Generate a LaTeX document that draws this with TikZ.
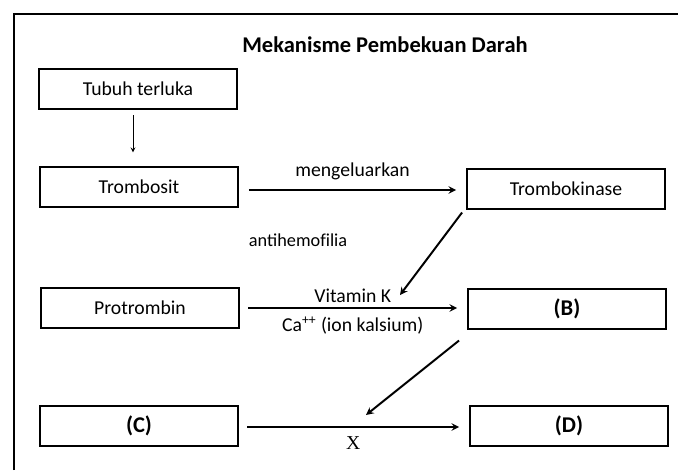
\documentclass[tikz,border=0pt]{standalone}
\usepackage{fontspec}
\setmainfont{Carlito}
\newfontfamily\serifx{Liberation Serif}
\usepackage{tikz}

\begin{document}
\begin{tikzpicture}[x=0.025cm,y=-0.025cm]
		% Define box and arrow styles
		\tikzset{kotak/.style={draw, line width=1.3pt, minimum width=4.95cm, minimum height=0.98cm, font=\fontsize{14}{16}\selectfont},
			huruf/.style={kotak, font=\fontsize{16}{18}\selectfont\bfseries},
			panah/.style={-stealth, line width=1.4pt},
			label/.style={font=\fontsize{14}{16}\selectfont}}
		
		% Fix the picture size
		\useasboundingbox (0,0) rectangle (678,470);
		
		% Draw the open frame and the title
		\draw[line width=0.9pt] (14,470) -- (14,14) -- (678,14);
		\node[font=\fontsize{16}{18}\selectfont\bfseries] (judul) at (385,45) {Mekanisme Pembekuan Darah};
		
		% Draw the boxes
		\node[kotak] (tubuh) at (138,89) {Tubuh terluka};
		\node[kotak] (trombosit) at (139,187) {Trombosit};
		\node[kotak] (trombokinase) at (566,189) {Trombokinase};
		\node[kotak] (protrombin) at (140,308) {Protrombin};
		\node[huruf] (nodeB) at (567,309) {(B)};
		\node[huruf] (nodeC) at (139,426) {(C)};
		\node[huruf] (nodeD) at (569,426) {(D)};
		
		% Free ends of the slanted arrows
		\coordinate (ujungK) at (400,295);
		\coordinate (ujungX) at (366,415);
		
		% Draw the arrows
		\draw[-stealth, line width=0.6pt, shorten <=4pt, shorten >=10pt] (tubuh.south -| 133,0) -- (trombosit.north -| 133,0);
		\draw[panah] ([xshift=7pt]trombosit.east |- 0,190) -- ([xshift=-7pt]trombokinase.west |- 0,190)
			node[midway, above=3pt, label] {mengeluarkan};
		\draw[panah] ([xshift=6pt]protrombin.east |- 0,308) -- ([xshift=-7pt]nodeB.west |- 0,308)
			node[midway, above=0pt, label] {Vitamin K}
			node[midway, below=2pt, label] {Ca\textsuperscript{++} (ion kalsium)};
		\draw[panah] ([xshift=6pt]nodeC.east |- 0,427) -- ([xshift=-7pt]nodeD.west |- 0,427)
			node[midway, below=3pt, font=\fontsize{14}{16}\selectfont\serifx] {X};
		\draw[panah] (trombokinase.south west) ++(-4,3) -- (ujungK);
		\draw[panah] (nodeB.south west) ++(-8,11) -- (ujungX);
		
		% Add the loose label
		\node[font=\fontsize{13}{15}\selectfont, anchor=west] (anti) at (244,240) {antihemof\kern0pt ilia};
	\end{tikzpicture}
\end{document}
